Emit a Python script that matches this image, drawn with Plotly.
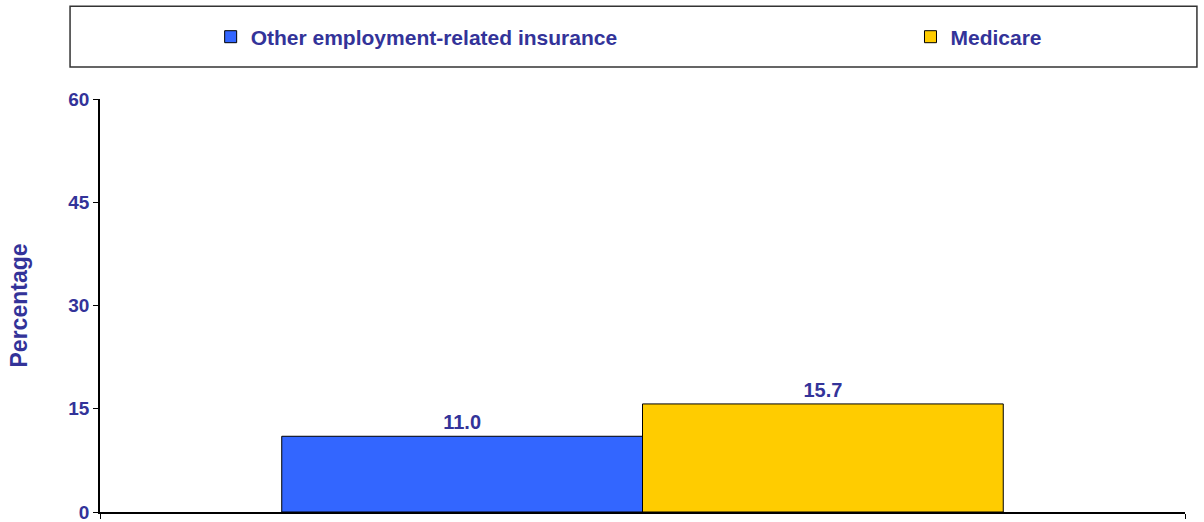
import plotly.graph_objects as go

series_names = ["Other employment-related insurance", "Medicare"]
series_values = [11.0, 15.7]
series_colors = ["#3366FF", "#FFCC00"]
category = [""]
y_ticks = [0, 15, 30, 45, 60]

NAVY = "#333399"
FONT = "Liberation Sans, Arial, sans-serif"

legend_ids = ["legend", "legend2"]
legend_x = [0.102, 0.747]

fig = go.Figure()
for name, val, col, lid in zip(series_names, series_values, series_colors, legend_ids):
    fig.add_trace(go.Bar(
        x=category, y=[val], name=name, legend=lid,
        marker=dict(color=col, line=dict(color="#000000", width=1)),
        text=[f"{val:.1f}"], textposition="outside", cliponaxis=False,
        textfont=dict(family=FONT, size=20, color=NAVY, weight="bold"),
    ))

legend_common = dict(
    orientation="h", xanchor="left", y=1.15, yanchor="middle",
    font=dict(family=FONT, size=21, color=NAVY, weight="bold"),
    bgcolor="rgba(0,0,0,0)", borderwidth=0,
    itemclick=False, itemdoubleclick=False,
)

fig.update_layout(
    width=1204, height=522,
    margin=dict(l=100, r=19, t=99, b=10, autoexpand=False),
    paper_bgcolor="white", plot_bgcolor="white",
    barmode="group", bargap=0.335, bargroupgap=0,
    font=dict(family=FONT, color=NAVY),
    showlegend=True,
    legend=dict(x=legend_x[0], **legend_common),
    legend2=dict(x=legend_x[1], **legend_common),
    xaxis=dict(
        showline=True, linecolor="#000000", linewidth=1.5,
        ticks="outside", tickson="boundaries", ticklen=5, tickcolor="#000000",
        showticklabels=False, showgrid=False, zeroline=False,
    ),
    yaxis=dict(
        range=[0, 60], tickvals=y_ticks, ticks="outside", ticklen=5,
        tickcolor="#000000", showline=True, linecolor="#000000", linewidth=1.5,
        showgrid=False, zeroline=False, ticklabeloverflow="allow",
        tickfont=dict(family=FONT, size=19, color=NAVY, weight="bold"),
        title=dict(text="Percentage", font=dict(family=FONT, size=23, color=NAVY, weight="bold"), standoff=34),
    ),
    shapes=[dict(
        type="rect", xref="paper", yref="paper",
        x0=-0.0276, x1=1.011, y0=1.0773, y1=1.2246,
        line=dict(color="#333333", width=1.5), fillcolor="rgba(0,0,0,0)",
    )],
)
fig.update_traces(texttemplate="%{text}")
fig.write_html(
    "out.html",
    config={"displayModeBar": False},
    post_script="document.body.style.margin='0';document.body.style.overflow='hidden';",
)
